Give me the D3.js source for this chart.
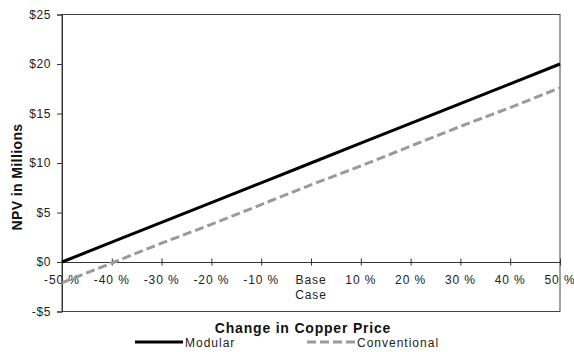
<!DOCTYPE html>
<html>
<head>
<meta charset="utf-8">
<script src="https://cdn.jsdelivr.net/npm/d3@7"></script>
<style>
  html, body { margin: 0; padding: 0; background: #fff; }
  svg { display: block; font-family: "Liberation Sans", Arial, sans-serif; }
</style>
</head>
<body>
<svg id="chart" width="574" height="352"></svg>
<script>
// Copper price sensitivity categories
const categories = ["-50 %", "-40 %", "-30 %", "-20 %", "-10 %", "Base Case", "10 %", "20 %", "30 %", "40 %", "50 %"];
// NPV in $ millions
const modular = [0, 2, 4, 6, 8, 10, 12, 14, 16, 18, 20];
const conventional = [-2.1, -0.1, 1.9, 3.8, 5.8, 7.8, 9.7, 11.7, 13.7, 15.6, 17.6];
const yTicks = [-5, 0, 5, 10, 15, 20, 25];

const svg = d3.select("#chart");
const m = { left: 62, right: 14, top: 14.5, bottom: 40.5 };
const W = 574, H = 352;

const x = d3.scalePoint().domain(categories).range([m.left, W - m.right]);
const y = d3.scaleLinear().domain([-5, 25]).range([H - m.bottom, m.top]);

// plot frame
svg.append("rect")
  .attr("x", m.left).attr("y", m.top)
  .attr("width", W - m.right - m.left).attr("height", H - m.bottom - m.top)
  .attr("fill", "none").attr("stroke", "#444").attr("stroke-width", 1);

// y axis
const yAxis = svg.append("g")
  .attr("transform", `translate(${m.left},0)`)
  .call(d3.axisLeft(y).tickValues(yTicks).tickSize(5).tickPadding(6)
    .tickFormat(d => (d < 0 ? "-$" : "$") + Math.abs(d)));
yAxis.select(".domain").attr("stroke", "#333");
yAxis.selectAll(".tick line").attr("stroke", "#333");
yAxis.selectAll("text").attr("font-size", 12).attr("fill", "#222")
  .attr("letter-spacing", 0.6)
  .attr("font-family", "'Liberation Sans', Arial, sans-serif");

// x axis along zero line, ticks crossing the axis
const xAxis = svg.append("g")
  .attr("transform", `translate(0,${y(0)})`)
  .call(d3.axisBottom(x).tickSizeInner(0).tickSizeOuter(0).tickFormat(""));
xAxis.select(".domain").attr("stroke", "#333");
xAxis.selectAll(".tick").append("line")
  .attr("y1", -3.5).attr("y2", 3.5).attr("stroke", "#333");

// category labels (two lines for Base Case)
const labels = svg.append("g")
  .attr("font-size", 12).attr("fill", "#222").attr("text-anchor", "middle")
  .attr("letter-spacing", 0.9);
categories.forEach(c => {
  const t = labels.append("text").attr("x", x(c)).attr("y", y(0) + 22);
  const parts = c === "Base Case" ? ["Base", "Case"] : [c];
  parts.forEach((p, i) => t.append("tspan").attr("x", x(c)).attr("dy", i ? 14.5 : 0).text(p));
});

// series lines
const line = d3.line().x((d, i) => x(categories[i])).y(d => y(d));
svg.append("path").datum(conventional)
  .attr("d", line).attr("fill", "none")
  .attr("stroke", "#9a9a9a").attr("stroke-width", 3).attr("stroke-dasharray", "9,4");
svg.append("path").datum(modular)
  .attr("d", line).attr("fill", "none")
  .attr("stroke", "#000").attr("stroke-width", 3);

// axis titles
svg.append("text")
  .attr("transform", "translate(22,177) rotate(-90)")
  .attr("text-anchor", "middle").attr("font-size", 14).attr("font-weight", "bold")
  .attr("letter-spacing", 0.4)
  .attr("fill", "#111").text("NPV in Millions");
svg.append("text")
  .attr("x", 303).attr("y", 333)
  .attr("text-anchor", "middle").attr("font-size", 14).attr("font-weight", "bold")
  .attr("letter-spacing", 0.8)
  .attr("fill", "#111").text("Change in Copper Price");

// legend
const legend = svg.append("g").attr("font-size", 12).attr("fill", "#222")
  .attr("letter-spacing", 1);
legend.append("line").attr("x1", 135).attr("x2", 183).attr("y1", 342).attr("y2", 342)
  .attr("stroke", "#000").attr("stroke-width", 3);
legend.append("text").attr("x", 185).attr("y", 347).text("Modular");
legend.append("line").attr("x1", 307).attr("x2", 356).attr("y1", 342).attr("y2", 342)
  .attr("stroke", "#9a9a9a").attr("stroke-width", 3).attr("stroke-dasharray", "9,4");
legend.append("text").attr("x", 357).attr("y", 347).text("Conventional");
</script>
</body>
</html>
